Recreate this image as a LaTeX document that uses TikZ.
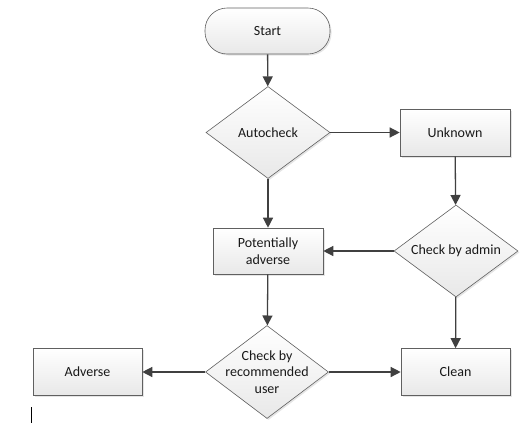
\documentclass[tikz,border=0pt]{standalone}
\usepackage{fontspec}
\setmainfont{Carlito}
\usetikzlibrary{shapes.geometric,arrows.meta,shadows}
\begin{document}
\begin{tikzpicture}[x=1pt,y=-1pt,
  txt/.style={font=\fontsize{14}{16.5}\selectfont, text=black!90, align=center},
  base/.style={draw=gray!75!black, line width=0.6pt, top color=white, bottom color=gray!18,
    txt, inner sep=0pt,
    drop shadow={shadow xshift=1.5pt, shadow yshift=-1.5pt, fill=gray!40, opacity=0.5}},
  procbox/.style={base, rectangle, minimum width=109pt, minimum height=47pt},
  decision/.style={base, diamond, minimum width=123pt, minimum height=92pt},
  conn/.style={draw=black!75, line width=1.3pt, -{Triangle[length=10pt,width=10pt]}}
]
\useasboundingbox (0,0) rectangle (527,426);
\node[base, rounded corners=22pt, minimum width=125pt, minimum height=46pt] (start) at (267.5,31) {Start};
\node[decision, minimum width=124pt, minimum height=92pt] (auto) at (268,132.5) {};
\node[txt] (autot) at (auto.center) {Autocheck};
\node[procbox, minimum width=110pt] (unk) at (455,132.5) {Unknown};
\node[decision, minimum width=124pt, minimum height=92pt] (admin) at (456,251) {};
\node[txt] (admint) at (admin.center) {Check by admin};
\node[procbox, minimum width=110pt, minimum height=46pt] (pot) at (268,251) {Potentially\\adverse};
\node[decision, minimum width=123pt, minimum height=93pt] (rec) at (267,372) {};
\node[txt] (rect) at (rec.center) {Check by\\recommended\\user};
\node[procbox] (adv) at (87.5,372) {Adverse};
\node[procbox] (clean) at (455.5,372) {Clean};
\path[conn] (start) -- (auto);
\path[conn] (auto) -- (unk);
\path[conn] (auto) -- (pot);
\path[conn] (unk) -- (admin);
\path[conn] (admin) -- (pot);
\path[conn] (admin) -- (clean);
\path[conn] (pot) -- (rec);
\path[conn] (rec) -- (adv);
\path[conn] (rec) -- (clean);
\coordinate (cura) at (31.5,407);
\coordinate (curb) at (31.5,423);
\draw[black, line width=1pt] (cura) -- (curb);
\end{tikzpicture}
\end{document}
